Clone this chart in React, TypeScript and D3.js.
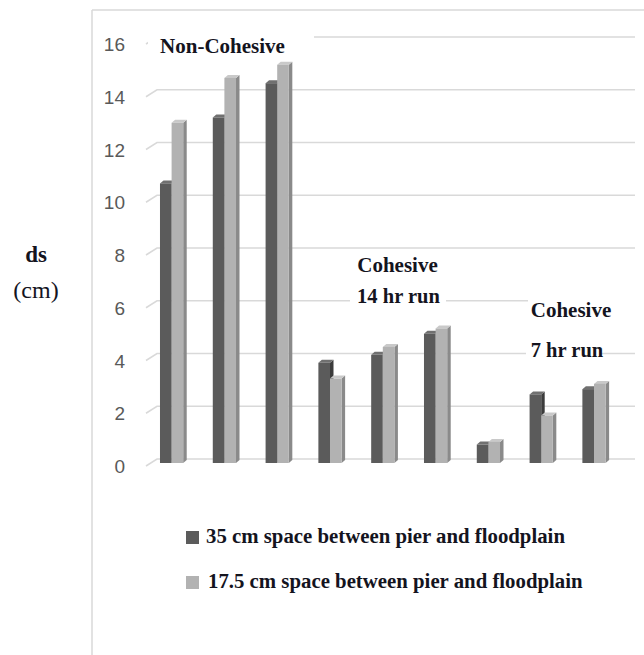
import * as d3 from 'd3'
import { useEffect } from 'react'

// bar groups, left to right
const categories = ['N1', 'N2', 'N3', 'C14a', 'C14b', 'C14c', 'C7a', 'C7b', 'C7c']
const series = ['s35', 's175']
const values35 = [10.6, 13.1, 14.4, 3.8, 4.1, 4.9, 0.7, 2.6, 2.8]
const values175 = [12.9, 14.6, 15.1, 3.2, 4.4, 5.1, 0.8, 1.8, 3.0]
const yTicks = [0, 2, 4, 6, 8, 10, 12, 14, 16]
const legendLabels = [
  { num: '35', rest: ' cm space between pier and floodplain' },
  { num: '17.5', rest: ' cm space between pier and floodplain' },
]

const W = 644
const H = 655
const serif = 'Liberation Serif'
const sans = 'Liberation Sans'

// face / side / top colours for each series
const palette = [
  { face: '#5b5b5b', side: '#3c3c3c', top: '#707070' },
  { face: '#b2b2b2', side: '#8a8a8a', top: '#c9c9c9' },
]

export default function App() {
  useEffect(() => {
    document.body.style.margin = '0'
  }, [])

  const y = d3.scaleLinear().domain([0, 16]).range([463, 41])
  const x = d3
    .scaleBand()
    .domain(categories)
    .range([145.2, 620.4])
    .paddingInner(0.56)
    .paddingOuter(0.28)
  const xs = d3.scaleBand().domain(series).range([0, x.bandwidth()])

  const dx = 3.5 // depth of the 3d bars
  const dy = 3

  const bars: { x: number; w: number; top: number; s: number }[] = []
  categories.forEach((c, i) => {
    ;[values35[i], values175[i]].forEach((v, s) => {
      bars.push({ x: (x(c) ?? 0) + (xs(series[s]) ?? 0), w: xs.bandwidth(), top: y(v), s })
    })
  })
  const base = y(0)
  const serifBold = { fontFamily: serif, fontWeight: 700 }
  const ink = '#14141e'

  return (
    <svg width={W} height={H} style={{ display: 'block', background: '#fff' }}>
      {/* frame */}
      <line x1={92} y1={10} x2={W} y2={10} stroke="#d9d9d9" strokeWidth={1.5} />
      <line x1={92} y1={10} x2={92} y2={H} stroke="#d9d9d9" strokeWidth={1.5} />

      {/* back-wall gridlines */}
      {yTicks.map((t) => (
        <g key={t}>
          <path
            d={`M146,${y(t) + 3} L157,${y(t) - 4} L635,${y(t) - 4}`}
            fill="none"
            stroke="#d9d9d9"
            strokeWidth={1.5}
          />
          <text
            x={125}
            y={y(t) + 5}
            textAnchor="end"
            dominantBaseline="middle"
            style={{ fontFamily: sans, fontSize: 19 }}
            fill="#595959"
          >
            {t}
          </text>
        </g>
      ))}

      {/* white boxes behind annotations */}
      <rect x={148} y={28} width={166} height={30} fill="#fff" />
      <rect x={350} y={292} width={96} height={18} fill="#fff" />
      <rect x={528} y={292} width={112} height={30} fill="#fff" />
      <rect x={526} y={343} width={74} height={18} fill="#fff" />

      {/* bars */}
      {bars.map((b, i) => {
        const c = palette[b.s]
        const h = base - b.top
        return (
          <g key={i}>
            <path
              d={`M${b.x + b.w},${b.top} L${b.x + b.w + dx},${b.top - dy} L${b.x + b.w + dx},${base - dy} L${b.x + b.w},${base} Z`}
              fill={c.side}
            />
            <path
              d={`M${b.x},${b.top} L${b.x + dx},${b.top - dy} L${b.x + b.w + dx},${b.top - dy} L${b.x + b.w},${b.top} Z`}
              fill={c.top}
            />
            <rect x={b.x} y={b.top} width={b.w} height={h} fill={c.face} />
          </g>
        )
      })}

      {/* annotations */}
      <g fill={ink}>
        <text x={222.5} y={53} textAnchor="middle" style={{ ...serifBold, fontSize: 21 }}>
          Non-Cohesive
        </text>
        <text x={397.5} y={272} textAnchor="middle" style={{ ...serifBold, fontSize: 21 }}>
          Cohesive
        </text>
        <text x={398.5} y={303} textAnchor="middle" style={{ ...serifBold, fontSize: 20.5 }}>
          14 hr run
        </text>
        <text x={571} y={317} textAnchor="middle" style={{ ...serifBold, fontSize: 21 }}>
          Cohesive
        </text>
        <text x={567} y={357} textAnchor="middle" style={{ ...serifBold, fontSize: 20.5 }}>
          7 hr run
        </text>
      </g>

      {/* axis title */}
      <text x={36} y={262} textAnchor="middle" fill={ink} style={{ ...serifBold, fontSize: 23 }}>
        ds
      </text>
      <text x={36} y={298} textAnchor="middle" fill={ink} style={{ fontFamily: serif, fontSize: 24 }}>
        (cm)
      </text>

      {/* legend */}
      {legendLabels.map((l, i) => (
        <g key={i} transform={`translate(186,${531 + i * 45})`}>
          <rect width={13} height={13} fill={palette[i].face} />
          <text x={20 + i * 2} y={12} fill={ink} style={{ ...serifBold, fontSize: 20.8 }}>
            <tspan>{l.num}</tspan>
            {l.rest}
          </text>
        </g>
      ))}
    </svg>
  )
}
